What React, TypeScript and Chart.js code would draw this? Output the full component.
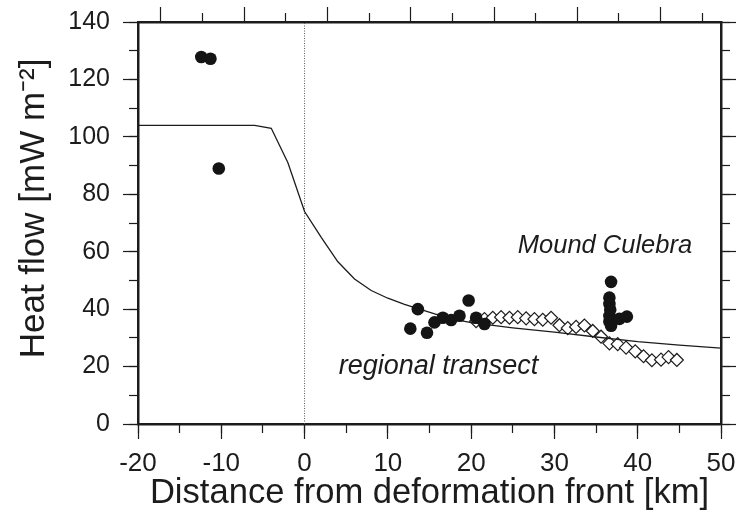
import React, { useEffect, useRef } from 'react';
import { Chart, registerables } from 'chart.js';

Chart.register(...registerables);

const WIDTH = 739;
const HEIGHT = 513;
const FONT = '"Liberation Sans", Arial, Helvetica, sans-serif';
const INK = '#1c1c1c';

// Plot frame edges in canvas pixels
const FRAME_LEFT = 138;
const FRAME_RIGHT = 721;
const FRAME_TOP = 22;
const FRAME_BOTTOM = 424;

// Axis ranges
const X_MIN = -20;
const X_MAX = 50;
const Y_MIN = 0;
const Y_MAX = 140;
// the upper frame carries a shifted tick set
const TOP_SHIFT = 2.75;
const topMajorTicks = [-20, -10, 0, 10, 20, 30, 40];
const topMinorTicks = [-15, -5, 5, 15, 25, 35, 45];

// Individual heat-flow stations (filled circles)
const stationX = [-12.4, -11.3, -10.3, 12.7, 13.6, 14.7, 15.6, 16.6, 17.6, 18.6, 19.7, 20.6, 21.6,
  36.8, 36.6, 36.6, 36.7, 36.6, 36.6, 36.8, 37.8, 38.7];
const stationY = [127.8, 127.2, 89.0, 33.2, 40.0, 31.8, 35.4, 37.0, 36.2, 37.7, 43.0, 37.0, 34.8,
  49.5, 44.0, 41.8, 39.8, 37.6, 35.7, 34.2, 36.6, 37.4];

// Regional transect (open diamonds)
const transectX = [20.6, 21.6, 22.6, 23.6, 24.6, 25.6, 26.6, 27.6, 28.6, 29.6, 30.6, 31.6, 32.6,
  33.6, 34.6, 35.6, 36.6, 37.6, 38.6, 39.7, 40.7, 41.7, 42.8, 43.7, 44.7];
const transectY = [35.8, 36.5, 37.0, 37.2, 37.0, 37.2, 36.8, 36.5, 36.3, 37.0, 34.4, 33.4, 33.8,
  34.3, 32.4, 30.4, 28.1, 27.8, 26.6, 25.3, 23.6, 22.2, 22.4, 23.3, 22.3];

// Modelled heat flow curve
const modelX = [-20, -6, -4, -2, 0, 2, 4, 6, 8, 10, 12, 14, 16, 18, 20, 25, 30, 35, 40, 45, 50];
const modelY = [104, 104, 103, 91, 74, 65, 56.5, 50.5, 46.5, 43.8, 41.7, 39.8, 38.0, 36.4, 35.3,
  33.5, 32.0, 30.3, 28.7, 27.5, 26.4];

// Deformation front marker
const frontX = [0, 0];
const frontY = [Y_MIN, Y_MAX];

// Italic site labels, anchored in data units (left edge, baseline)
const siteLabels = [
  { text: 'Mound Culebra', x: 25.6, y: 59.5, size: 25.5 },
  { text: 'regional transect', x: 4.1, y: 17.4, size: 27 },
];

const pairs = (xs: number[], ys: number[]) => xs.map((x, i) => ({ x, y: ys[i] }));

// Pin an axis box to a fixed thickness and drop the label overhang it would reserve
const pin = (prop: 'width' | 'height', size: number) => (s: any) => {
  s[prop] = size;
  s.paddingTop = 0;
  s.paddingBottom = 0;
  s.paddingLeft = 0;
  s.paddingRight = 0;
};
const setTicks = (values: number[]) => (s: any) => { s.ticks = values.map((value) => ({ value })); };

const tickGrid = (len: number) => ({
  drawOnChartArea: false,
  drawTicks: true,
  tickLength: len,
  tickWidth: 1.2,
  tickColor: INK,
});

const frame = { display: true, width: 2.5, color: INK };
const noFrame = { display: false };

const siteLabelPlugin = {
  id: 'siteLabels',
  afterDatasetsDraw(chart: any) {
    const { ctx } = chart;
    const xs = chart.scales.x;
    const ys = chart.scales.y;
    ctx.save();
    ctx.fillStyle = INK;
    ctx.textAlign = 'left';
    ctx.textBaseline = 'alphabetic';
    for (const l of siteLabels) {
      ctx.font = `italic ${l.size}px ${FONT}`;
      ctx.fillText(l.text, xs.getPixelForValue(l.x), ys.getPixelForValue(l.y));
    }
    ctx.restore();
  },
};

export default function App() {
  const canvasRef = useRef<HTMLCanvasElement | null>(null);

  useEffect(() => {
    const canvas = canvasRef.current;
    if (!canvas) return;

    const chart = new Chart(canvas, {
      type: 'scatter',
      data: {
        datasets: [
          {
            label: 'stations',
            data: pairs(stationX, stationY),
            xAxisID: 'x',
            yAxisID: 'y',
            pointStyle: 'circle',
            pointRadius: 6.3,
            backgroundColor: '#141414',
            borderColor: '#141414',
            borderWidth: 0,
            order: 1,
          },
          {
            label: 'model',
            data: pairs(modelX, modelY),
            xAxisID: 'x',
            yAxisID: 'y',
            showLine: true,
            tension: 0,
            pointRadius: 0,
            borderColor: INK,
            borderWidth: 1.3,
            order: 2,
          },
          {
            label: 'transect',
            data: pairs(transectX, transectY),
            xAxisID: 'x',
            yAxisID: 'y',
            pointStyle: 'rectRot',
            pointRadius: 6.5,
            backgroundColor: '#ffffff',
            borderColor: INK,
            borderWidth: 1.2,
            order: 3,
          },
          {
            label: 'front',
            data: pairs(frontX, frontY),
            xAxisID: 'x',
            yAxisID: 'y',
            showLine: true,
            pointRadius: 0,
            borderColor: '#555555',
            borderWidth: 1,
            borderDash: [1, 1.5],
            order: 4,
          },
        ],
      },
      options: {
        responsive: false,
        animation: false,
        events: [],
        layout: { padding: 0 },
        plugins: {
          legend: { display: false },
          tooltip: { enabled: false },
        },
        scales: {
          x: {
            type: 'linear',
            position: 'bottom',
            weight: 1,
            min: X_MIN,
            max: X_MAX,
            ticks: {
              stepSize: 10,
              autoSkip: false,
              maxRotation: 0,
              padding: 9,
              color: INK,
              font: { family: FONT, size: 26 },
            },
            grid: tickGrid(15),
            border: frame,
            title: {
              display: true,
              text: 'Distance from deformation front [km]',
              color: INK,
              font: { family: FONT, size: 34.6 },
              padding: { top: 0, bottom: -1 },
            },
            afterFit: pin('height', HEIGHT - FRAME_BOTTOM),
          },
          xMinor: {
            type: 'linear',
            position: 'bottom',
            weight: 0,
            min: X_MIN,
            max: X_MAX,
            ticks: { stepSize: 5, display: false },
            grid: tickGrid(9),
            border: noFrame,
            afterFit: pin('height', 0),
          },
          xTop: {
            type: 'linear',
            position: 'top',
            weight: 1,
            min: X_MIN - TOP_SHIFT,
            max: X_MAX - TOP_SHIFT,
            ticks: { display: false },
            afterBuildTicks: setTicks(topMajorTicks),
            grid: tickGrid(15),
            border: frame,
            afterFit: pin('height', FRAME_TOP),
          },
          xTopMinor: {
            type: 'linear',
            position: 'top',
            weight: 0,
            min: X_MIN - TOP_SHIFT,
            max: X_MAX - TOP_SHIFT,
            ticks: { display: false },
            afterBuildTicks: setTicks(topMinorTicks),
            grid: tickGrid(9),
            border: noFrame,
            afterFit: pin('height', 0),
          },
          y: {
            type: 'linear',
            position: 'left',
            weight: 1,
            min: Y_MIN,
            max: Y_MAX,
            ticks: {
              stepSize: 20,
              padding: 13,
              color: INK,
              font: { family: FONT, size: 25 },
            },
            grid: tickGrid(15),
            border: frame,
            title: {
              display: true,
              text: '   Heat flow [mW m⁻²]',
              color: INK,
              font: { family: FONT, size: 35 },
              padding: { top: 13, bottom: 0 },
            },
            afterFit: pin('width', FRAME_LEFT),
          },
          yMinor: {
            type: 'linear',
            position: 'left',
            weight: 0,
            min: Y_MIN,
            max: Y_MAX,
            ticks: { stepSize: 10, display: false },
            grid: tickGrid(9),
            border: noFrame,
            afterFit: pin('width', 0),
          },
          yRight: {
            type: 'linear',
            position: 'right',
            weight: 1,
            min: Y_MIN,
            max: Y_MAX,
            ticks: { stepSize: 20, display: false },
            grid: tickGrid(15),
            border: frame,
            afterFit: pin('width', WIDTH - FRAME_RIGHT),
          },
          yRightMinor: {
            type: 'linear',
            position: 'right',
            weight: 0,
            min: Y_MIN,
            max: Y_MAX,
            ticks: { stepSize: 10, display: false },
            grid: tickGrid(9),
            border: noFrame,
            afterFit: pin('width', 0),
          },
        },
      } as any,
      plugins: [siteLabelPlugin],
    });

    return () => chart.destroy();
  }, []);

  return (
    <div style={{ position: 'absolute', left: 0, top: 0, width: WIDTH, height: HEIGHT, background: '#ffffff' }}>
      <canvas ref={canvasRef} width={WIDTH} height={HEIGHT} style={{ display: 'block' }} />
    </div>
  );
}
